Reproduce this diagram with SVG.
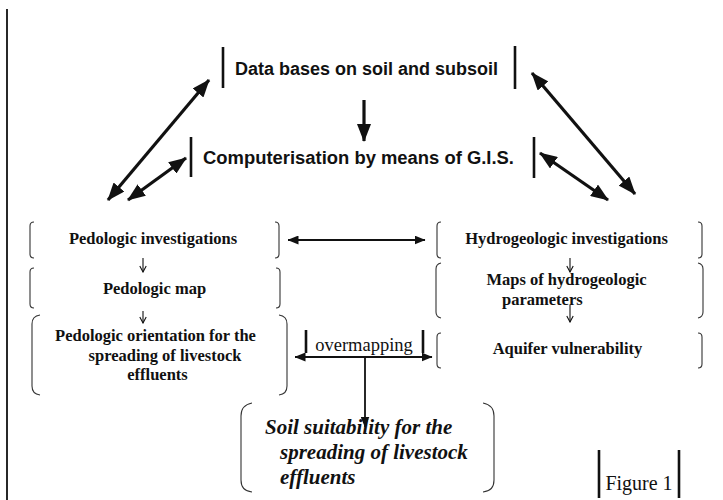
<svg xmlns="http://www.w3.org/2000/svg" width="723" height="500" viewBox="0 0 723 500">
  <defs>
    <style>
      .sans { font-family: "Liberation Sans", Arial, sans-serif; font-weight: bold; font-size: 18px; fill: #111; }
      .serif { font-family: "Liberation Serif", "Times New Roman", serif; font-weight: bold; font-size: 16.5px; fill: #111; }
      .plain { font-family: "Liberation Serif", "Times New Roman", serif; font-size: 18.5px; fill: #111; }
      .ital { font-family: "Liberation Serif", "Times New Roman", serif; font-weight: bold; font-style: italic; font-size: 21px; fill: #111; }
      .bar { stroke: #111; stroke-width: 2.6; fill: none; }
      .brk { stroke: #333; stroke-width: 1.1; fill: none; }
      .thick { stroke: #111; stroke-width: 3.2; fill: none; }
      .mid { stroke: #111; stroke-width: 1.8; fill: none; }
      .thin { stroke: #111; stroke-width: 1.1; fill: none; }
    </style>
    <marker id="headBig" viewBox="0 0 18 14" markerWidth="18" markerHeight="14" refX="17" refY="7" orient="auto-start-reverse" markerUnits="userSpaceOnUse">
      <path d="M0,0 L18,7 L0,14 Z" fill="#111"/>
    </marker>
    <marker id="headMid" viewBox="0 0 11 9" markerWidth="11" markerHeight="9" refX="10.5" refY="4.5" orient="auto-start-reverse" markerUnits="userSpaceOnUse">
      <path d="M0,0 L11,4.5 L0,9 Z" fill="#111"/>
    </marker>
    <marker id="headOpen" viewBox="0 0 8 8" markerWidth="8" markerHeight="8" refX="7" refY="4" orient="auto" markerUnits="userSpaceOnUse">
      <path d="M1,0.8 L7,4 L1,7.2" fill="none" stroke="#111" stroke-width="1.1"/>
    </marker>
  </defs>

  <!-- page margin rule -->
  <line x1="7" y1="9" x2="7" y2="500" stroke="#111" stroke-width="1.8"/>

  <!-- top boxes -->
  <g id="databases">
    <line class="bar" x1="223" y1="47" x2="223" y2="88"/>
    <line class="bar" x1="515" y1="46" x2="515" y2="89"/>
    <text class="sans" x="235" y="75" textLength="263" lengthAdjust="spacingAndGlyphs">Data bases on soil and subsoil</text>
  </g>
  <g id="gis">
    <line class="bar" x1="191" y1="137" x2="191" y2="177"/>
    <line class="bar" x1="534" y1="137" x2="534" y2="178"/>
    <text class="sans" x="203" y="164" textLength="311" lengthAdjust="spacingAndGlyphs">Computerisation by means of G.I.S.</text>
  </g>

  <!-- left column -->
  <g id="pedo-inv">
    <path class="brk" d="M34,222 Q30,222 30,226 L30,254 Q30,258 34,258"/>
    <path class="brk" d="M275,222 Q279,222 279,226 L279,254 Q279,258 275,258"/>
    <text class="serif" x="153" y="244" text-anchor="middle">Pedologic investigations</text>
  </g>
  <g id="pedo-map">
    <path class="brk" d="M34,268 Q30,268 30,272 L30,304 Q30,308 34,308"/>
    <path class="brk" d="M276,268 Q280,268 280,272 L280,304 Q280,308 276,308"/>
    <text class="serif" x="154.5" y="294" text-anchor="middle">Pedologic map</text>
  </g>
  <g id="pedo-orient">
    <path class="brk" d="M40,315 Q32,316 32,324 L32,386 Q32,394 40,395"/>
    <path class="brk" d="M279,315 Q287,316 287,324 L287,386 Q287,394 279,395"/>
    <text class="serif" x="155.5" y="341" text-anchor="middle">Pedologic orientation for the</text>
    <text class="serif" x="165" y="361" text-anchor="middle">spreading of livestock</text>
    <text class="serif" x="157.5" y="380" text-anchor="middle">effluents</text>
  </g>

  <!-- right column -->
  <g id="hydro-inv">
    <path class="brk" d="M441,222 Q437,222 437,226 L437,254 Q437,258 441,258"/>
    <path class="brk" d="M698,222 Q702,222 702,226 L702,254 Q702,258 698,258"/>
    <text class="serif" x="566.5" y="244" text-anchor="middle">Hydrogeologic investigations</text>
  </g>
  <g id="hydro-maps">
    <path class="brk" d="M441,263 Q436,264 436,269 L436,312 Q436,317 441,318"/>
    <path class="brk" d="M698,263 Q703,264 703,269 L703,312 Q703,317 698,318"/>
    <text class="serif" x="566.5" y="285" text-anchor="middle">Maps of hydrogeologic</text>
    <text class="serif" x="502" y="305">parameters</text>
  </g>
  <g id="aquifer">
    <path class="brk" d="M441,333 Q437,333 437,337 L437,364 Q437,368 441,368"/>
    <path class="brk" d="M698,333 Q702,333 702,337 L702,364 Q702,368 698,368"/>
    <text class="serif" x="567.5" y="354" text-anchor="middle">Aquifer vulnerability</text>
  </g>

  <!-- overlay step and result -->
  <g id="overmapping">
    <line class="bar" x1="306" y1="330" x2="306" y2="353"/>
    <line class="bar" x1="423" y1="330" x2="423" y2="353"/>
    <text class="plain" x="364" y="351" text-anchor="middle">overmapping</text>
  </g>
  <g id="suitability">
    <path class="brk" d="M252,403 Q241,405 241,416 L241,480 Q241,491 252,492"/>
    <path class="brk" d="M483,403 Q494,405 494,416 L494,480 Q494,491 483,492"/>
    <text class="ital" x="265" y="434">Soil suitability for the</text>
    <text class="ital" x="280" y="459">spreading of livestock</text>
    <text class="ital" x="280" y="484">effluents</text>
  </g>
  <g id="figure-label">
    <line class="bar" x1="599" y1="450" x2="599" y2="498"/>
    <line class="bar" x1="679" y1="450" x2="679" y2="498"/>
    <text class="plain" x="639" y="490" text-anchor="middle" style="font-size:20px">Figure 1</text>
  </g>

  <!-- connectors -->
  <g id="connectors">
    <line class="thick" x1="364" y1="100" x2="364" y2="141" marker-end="url(#headBig)"/>
    <line class="thick" x1="209" y1="80" x2="108" y2="200" marker-start="url(#headBig)" marker-end="url(#headBig)"/>
    <line class="thick" x1="186" y1="158" x2="128" y2="200" marker-start="url(#headBig)" marker-end="url(#headBig)"/>
    <line class="thick" x1="532" y1="73" x2="635" y2="194" marker-start="url(#headBig)" marker-end="url(#headBig)"/>
    <line class="thick" x1="540" y1="153" x2="608" y2="200" marker-start="url(#headBig)" marker-end="url(#headBig)"/>
    <line class="mid" x1="288" y1="240" x2="425" y2="240" stroke-width="1.4" marker-start="url(#headMid)" marker-end="url(#headMid)"/>
    <line class="thin" x1="143" y1="258" x2="143" y2="272" marker-end="url(#headOpen)"/>
    <line class="thin" x1="143" y1="311" x2="143" y2="323" marker-end="url(#headOpen)"/>
    <line class="thin" x1="570" y1="258" x2="570" y2="272" marker-end="url(#headOpen)"/>
    <line class="thin" x1="570" y1="305" x2="570" y2="322" marker-end="url(#headOpen)"/>
    <line class="mid" x1="295" y1="357" x2="432" y2="357" marker-start="url(#headMid)" marker-end="url(#headMid)"/>
    <line class="mid" x1="365" y1="357" x2="365" y2="427" marker-end="url(#headMid)"/>
  </g>
</svg>
